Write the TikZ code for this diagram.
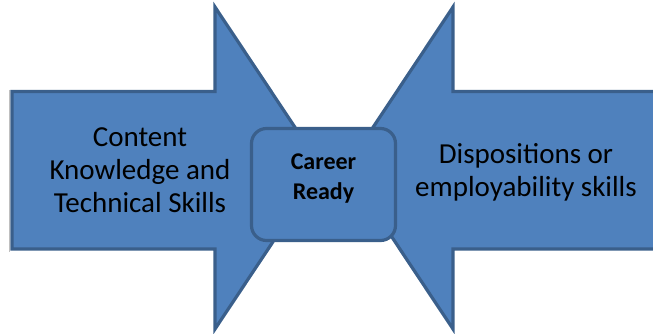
\documentclass[tikz,border=0pt]{standalone}
\usepackage{fontspec}
\setmainfont{Carlito}
\definecolor{fillblue}{HTML}{4F81BD}
\definecolor{edgeblue}{HTML}{3A5F8B}
\begin{document}
\begin{tikzpicture}[x=1pt,y=-1pt,
  shapestyle/.style={fill=fillblue,draw=edgeblue,line width=3.2pt,line join=miter},
  sidetext/.style={align=center,font=\fontsize{29}{33}\selectfont,text=black,inner sep=0pt},
  centertext/.style={align=center,font=\bfseries\fontsize{24}{30}\selectfont,text=black,inner sep=0pt}]
\useasboundingbox (0,0) rectangle (653,334);
\clip (0,0) rectangle (653,334);
% left arrow
\draw[shapestyle] (12,91.5) -- (215,91.5) -- (215,7) -- (322,168) -- (215,329) -- (215,249) -- (12,249) -- cycle;
\draw[gray!50,line width=0.8pt] (9,90) -- (9,252);
% right arrow
\draw[shapestyle] (660,91.5) -- (453,91.5) -- (453,7) -- (346,168) -- (453,329) -- (453,249) -- (660,249) -- cycle;
% center box
\node[shapestyle,rounded corners=15pt,minimum width=144pt,minimum height=112pt] (box) at (323.5,184.5) {};
\node[centertext] (career) at (323.5,179) {Career\\Ready};
\node[sidetext] (left) at (140,170) {Content\\Knowledge and\\Technical Skills};
\node[sidetext] (right) at (526,172) {Dispositions or\\employability skills};
\end{tikzpicture}
\end{document}
